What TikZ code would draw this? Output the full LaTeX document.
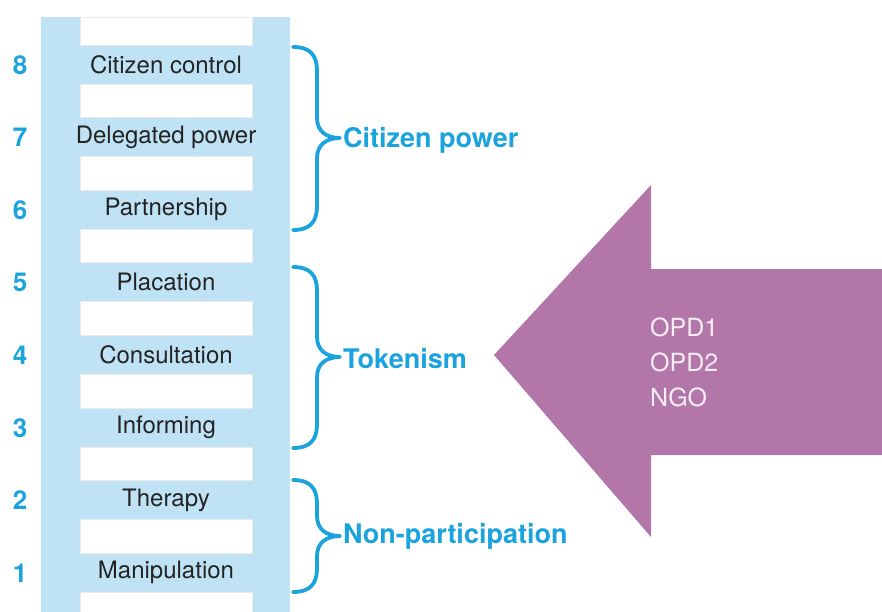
\documentclass[tikz,border=0pt]{standalone}
\usepackage{fontspec}
\setmainfont{TeX Gyre Heros}
\definecolor{ladder}{RGB}{191,227,245}
\definecolor{cpblue}{RGB}{27,163,221}
\definecolor{arrowpurple}{RGB}{178,118,168}
\definecolor{arrowtext}{RGB}{246,236,244}
\definecolor{labtext}{RGB}{35,35,35}
\tikzset{
  gapbox/.style={fill=white,draw=black!8,line width=0.6pt},
  runglabel/.style={text=labtext,font=\fontsize{24}{28}\selectfont,inner sep=0pt},
  rungnum/.style={text=cpblue,font=\fontsize{26}{30}\selectfont\bfseries,inner sep=0pt},
  grouplabel/.style={text=cpblue,font=\fontsize{27}{32}\selectfont\bfseries,inner sep=0pt,anchor=west},
  bracestyle/.style={draw=cpblue,line width=3.8pt,line cap=round,line join=round},
}
\newcommand{\mybrace}[3]{%
  \draw[bracestyle] (293,#1) .. controls (311,#1) and (317,#1+9) .. (317,#1+24)
    -- (317,#2-20) .. controls (317,#2-7) and (326,#2) .. (340,#2)
    .. controls (326,#2) and (317,#2+7) .. (317,#2+20)
    -- (317,#3-24) .. controls (317,#3-9) and (311,#3) .. (293,#3);}
\begin{document}
\begin{tikzpicture}[x=1pt,y=-1pt]
\useasboundingbox (0,0) rectangle (882,612);
% ladder body
\fill[ladder] (41,17) rectangle (290,612);
\draw[gapbox] (80,17) rectangle (252,45);
\foreach \k in {0,...,6}{
  \draw[gapbox] (80,{84+72.57*\k}) rectangle (252,{117.6+72.57*\k});
}
\draw[gapbox] (80,592) rectangle (252,613);
% rung labels and numbers
\foreach \k/\lab/\num in {0/Citizen control/8,1/Delegated power/7,2/Partnership/6,3/Placation/5,4/Consultation/4,5/Informing/3,6/Therapy/2,7/Manipulation/1}{
  \node[runglabel] (rung\num) at (166,{64.5+72.57*\k}) {\lab};
  \node[rungnum] (num\num) at (20,{65+72.57*\k}) {\num};
}
% braces
\mybrace{47}{138}{230}
\mybrace{267}{357}{448}
\mybrace{480}{536}{592}
\node[grouplabel] (cpower) at (343,140) {Citizen power};
\node[grouplabel] (token) at (343,359) {Tokenism};
\node[grouplabel] (nonpart) at (343,536) {Non-participation};
% arrow
\fill[arrowpurple] (494,355) -- (651,185) -- (651,269) -- (882,269) -- (882,455) -- (651,455) -- (651,537) -- cycle;
\node[text=arrowtext,font=\fontsize{25}{35}\selectfont,align=left,anchor=west,inner sep=0pt] (actors) at (650,362) {OPD1\\OPD2\\NGO};
\end{tikzpicture}
\end{document}
